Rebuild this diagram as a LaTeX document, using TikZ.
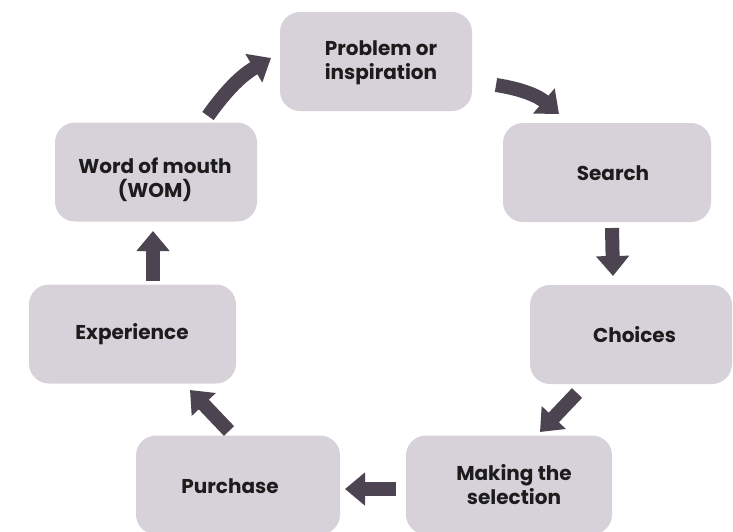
\documentclass[tikz,border=0pt]{standalone}
\usepackage{fontspec}
\setmainfont{Poppins}
\usetikzlibrary{arrows.meta}
\definecolor{boxfill}{HTML}{D7D2DA}
\definecolor{arrowcol}{HTML}{4D4452}
\definecolor{textcol}{HTML}{1C1C1C}
\begin{document}
\begin{tikzpicture}[x=1pt,y=-1pt,
  stage/.style={fill=boxfill, rounded corners=20pt, minimum width=204pt,
    minimum height=99pt},
  caption/.style={align=center, text=textcol, inner sep=0pt,
    font=\fontsize{20}{24}\selectfont\bfseries},
  flow/.style={draw=arrowcol, line width=14pt,
    -{Triangle[width=32pt,length=20pt]}}
]
\useasboundingbox (0,0) rectangle (733,531);
% the seven stage boxes around the loop
\node[stage, minimum width=192pt] (prob) at (376,61.5) {};
\node[stage, minimum width=208pt] (search) at (607,172.5) {};
\node[stage, minimum width=202pt] (choices) at (631,334.5) {};
\node[stage, minimum width=206pt] (making) at (509,485) {};
\node[stage] (purchase) at (238,485) {};
\node[stage, minimum width=207pt] (exper) at (132.5,334) {};
\node[stage, minimum width=202pt] (wom) at (156,172) {};
% their captions
\node[caption] (prob-t) at (381,62.5) {Problem or\\inspiration};
\node[caption] (search-t) at (613,173) {Search};
\node[caption] (choices-t) at (634.5,335) {Choices};
\node[caption] (making-t) at (514,484.5) {Making the\\selection};
\node[caption] (purchase-t) at (230,486) {Purchase};
\node[caption] (exper-t) at (132,334) {Experience};
\node[caption] (wom-t) at (155,179.5) {Word of mouth\\(WOM)};
% arrow end points in the gaps between stages
\coordinate (a1s) at (208,116);
\coordinate (a1e) at (271,58);
\coordinate (a2s) at (496,85);
\coordinate (a2e) at (559,114);
\coordinate (a3s) at (612,228);
\coordinate (a3e) at (613,276);
\coordinate (a4s) at (577,393);
\coordinate (a4e) at (540,432);
\coordinate (a5s) at (396,489);
\coordinate (a5e) at (345,489);
\coordinate (a6s) at (229,431);
\coordinate (a6e) at (190,390);
\coordinate (a7s) at (153,281);
\coordinate (a7e) at (153,231);
% arrows
\draw[flow] (a1s) to[bend left=12] (a1e);
\draw[flow] (a2s) to[bend left=16] (a2e);
\draw[flow] (a3s) -- (a3e);
\draw[flow] (a4s) -- (a4e);
\draw[flow] (a5s) -- (a5e);
\draw[flow] (a6s) -- (a6e);
\draw[flow] (a7s) -- (a7e);
\end{tikzpicture}
\end{document}
